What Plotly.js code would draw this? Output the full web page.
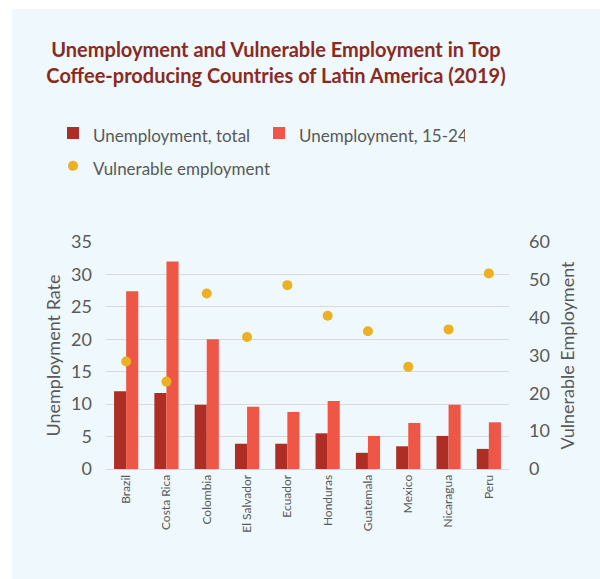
<!DOCTYPE html>
<html>
<head>
<meta charset="utf-8">
<script src="https://cdn.plot.ly/plotly-3.0.1.min.js"></script>
<style>
  html, body { margin: 0; padding: 0; background: #ffffff; }
  #chart { position: absolute; left: 12px; top: 9px; width: 588px; height: 570px; }
</style>
</head>
<body>
<div id="chart"></div>
<script>
const countries = ["Brazil", "Costa Rica", "Colombia", "El Salvador", "Ecuador", "Honduras", "Guatemala", "Mexico", "Nicaragua", "Peru"];
const seriesNames = ["Unemployment, total", "Unemployment, 15-24", "Vulnerable employment"];
const unemploymentTotal = [12.0, 11.7, 9.9, 3.9, 3.9, 5.5, 2.5, 3.5, 5.1, 3.1];
const unemploymentYouth = [27.4, 32.0, 20.0, 9.6, 8.8, 10.5, 5.1, 7.1, 9.9, 7.2];
const vulnerableEmployment = [28.4, 23.1, 46.4, 34.9, 48.6, 40.5, 36.4, 27.0, 36.9, 51.7];

const FONT = "Lato, 'Open Sans', sans-serif";
const GREY = "#595959";
const legendName = s => '<span style="font-size:17px">' + s + '</span>';

const traces = [
  {
    type: "bar", name: legendName(seriesNames[0]),
    x: countries, y: unemploymentTotal,
    marker: { color: "#AE2D24" }, yaxis: "y", legendwidth: 161
  },
  {
    type: "bar", name: legendName(seriesNames[1]),
    x: countries, y: unemploymentYouth,
    marker: { color: "#EE5746" }, yaxis: "y", legendwidth: 161
  },
  {
    type: "scatter", mode: "markers", name: legendName(seriesNames[2]),
    x: countries, y: vulnerableEmployment,
    marker: { color: "#EBB023", size: 10 }, yaxis: "y2", legendwidth: 161
  }
];

const PLOT_H = 570 - 233 - 110;
const PLOT_W = 588 - 94 - 91;

const layout = {
  width: 588, height: 570,
  paper_bgcolor: "#EEF8FD",
  plot_bgcolor: "rgba(0,0,0,0)",
  font: { family: FONT, color: GREY },
  margin: { l: 94, r: 91, t: 233, b: 110, pad: 0, autoexpand: false },
  title: {
    text: "<b>Unemployment and Vulnerable Employment in Top<br>Coffee-producing Countries of Latin America (2019)</b>",
    font: { family: FONT, size: 20, color: "#8B2A1E" },
    xref: "container", x: 264 / 588, xanchor: "center",
    yref: "container", y: 1 - 48 / 570, yanchor: "top"
  },
  showlegend: true,
  legend: {
    orientation: "h",
    xref: "paper", x: (41 - 94) / PLOT_W, xanchor: "left",
    yref: "paper", y: 1 + (233 - 102.5) / PLOT_H, yanchor: "top",
    font: { family: FONT, size: 23, color: GREY },
    bgcolor: "rgba(0,0,0,0)",
    traceorder: "normal"
  },
  barmode: "group",
  bargap: 0.4,
  bargroupgap: 0,
  xaxis: {
    type: "category",
    automargin: false,
    range: [-0.5, 9.5],
    tickangle: -90,
    tickfont: { family: FONT, size: 12, color: GREY },
    showline: true, linecolor: "#D9D9D9", linewidth: 1,
    ticks: "", showgrid: false
  },
  yaxis: {
    automargin: false,
    range: [0, 35], dtick: 5, tick0: 0,
    showgrid: true, gridcolor: "#D9D9D9", gridwidth: 1,
    zeroline: false, showline: false, ticks: "",
    tickfont: { family: FONT, size: 18, color: GREY },
    ticklabelstandoff: 13,
    title: { text: "Unemployment Rate", font: { family: FONT, size: 18, color: GREY }, standoff: 5 }
  },
  yaxis2: {
    automargin: false,
    overlaying: "y", side: "right",
    range: [0, 60], dtick: 10, tick0: 0,
    showgrid: false, zeroline: false, showline: false, ticks: "",
    tickfont: { family: FONT, size: 18, color: GREY },
    ticklabelstandoff: 19,
    title: { text: "Vulnerable Employment", font: { family: FONT, size: 18, color: GREY }, standoff: 12 }
  }
};

Plotly.newPlot("chart", traces, layout, { displayModeBar: false, responsive: false });
</script>
</body>
</html>
